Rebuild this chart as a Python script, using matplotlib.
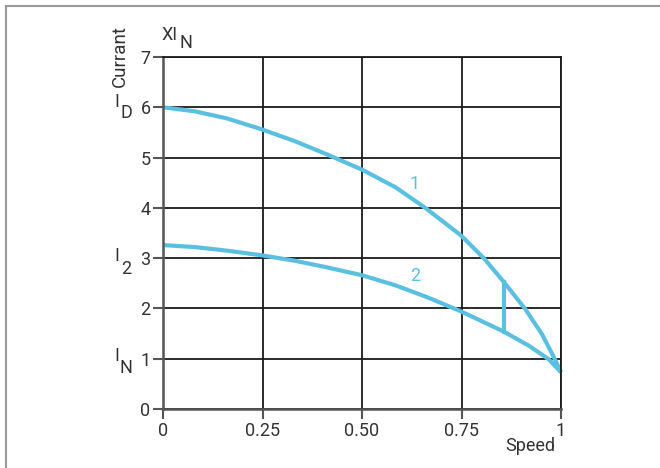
import matplotlib
matplotlib.use("Agg")
import matplotlib.pyplot as plt
from matplotlib.patches import Rectangle

plt.rcParams['font.family'] = ['Roboto', 'DejaVu Sans']

# curve 1 (upper) and curve 2 (lower)
speed1 = [0, 0.08, 0.16, 0.245, 0.33, 0.41, 0.5, 0.584, 0.659, 0.749,
          0.806, 0.856, 0.91, 0.952, 0.982, 1.0]
current1 = [6.0, 5.92, 5.78, 5.57, 5.33, 5.07, 4.76, 4.41, 4.0, 3.45,
            3.0, 2.53, 1.99, 1.49, 1.03, 0.73]
speed2 = [0, 0.08, 0.16, 0.245, 0.33, 0.41, 0.5, 0.584, 0.668, 0.749,
          0.856, 0.919, 0.969, 1.0]
current2 = [3.26, 3.22, 3.15, 3.06, 2.95, 2.82, 2.66, 2.46, 2.21, 1.94,
            1.54, 1.26, 0.99, 0.73]
step_x = 0.856
step_y = [1.54, 2.53]

xticks = [0, 0.25, 0.5, 0.75, 1]
xticklabels = ['0', '0.25', '0.50', '0.75', '1']
yticks = [0, 1, 2, 3, 4, 5, 6, 7]

blue = '#5bc0e0'
ink = '#333333'
W, H = 660, 468

fig = plt.figure(figsize=(6.6, 4.68), dpi=100)
# outer frame of the figure
fig.patches.append(Rectangle((6 / W, -0.1), 1.2, 1 - 6 / H + 0.1,
                             transform=fig.transFigure, fill=False,
                             edgecolor='#999999', linewidth=1.5))

ax = fig.add_axes([163 / W, 1 - 409 / H, 398 / W, 352 / H])
ax.set_xlim(0, 1)
ax.set_ylim(0, 7)
ax.set_xticks(xticks)
ax.set_xticklabels(xticklabels)
ax.set_yticks(yticks)
ax.grid(True, color='#1a1a1a', linewidth=1.3)
ax.set_axisbelow(True)
for side in ['top', 'right']:
    ax.spines[side].set_color('#1a1a1a')
    ax.spines[side].set_linewidth(1.3)
for side in ['left', 'bottom']:
    ax.spines[side].set_color('#555555')
    ax.spines[side].set_linewidth(1.8)
ax.tick_params(length=7, width=1.5, color='#555555', labelcolor=ink,
               labelsize=13, pad=2)

for xs, ys in [(speed1, current1), (speed2, current2)]:
    ax.plot(xs, ys, color=blue, linewidth=3, solid_joinstyle='round',
            solid_capstyle='butt', clip_on=False)
ax.plot([step_x, step_x], step_y, color=blue, linewidth=3)

ax.text(0.633, 4.48, '1', color=blue, fontsize=13, ha='center', va='center')
ax.text(0.633, 2.65, '2', color=blue, fontsize=13, ha='center', va='center')


def px_text(x, y, s, size=13, **kw):
    fig.text(x / W, 1 - y / H, s, fontsize=size, color=ink,
             ha='center', va='center', **kw)


# axis annotations (letters with a lowered index)
px_text(120, 56, 'Currant', size=13.5, rotation=90)
px_text(117, 102, 'I')
px_text(126, 113, 'D')
px_text(117, 256, 'I')
px_text(126, 269, '2')
px_text(117, 356, 'I')
px_text(126, 368, 'N')
px_text(170, 35, 'XI')
px_text(186, 43, 'N')
px_text(530, 446, 'Speed')

fig.savefig('out.png', dpi=100)
